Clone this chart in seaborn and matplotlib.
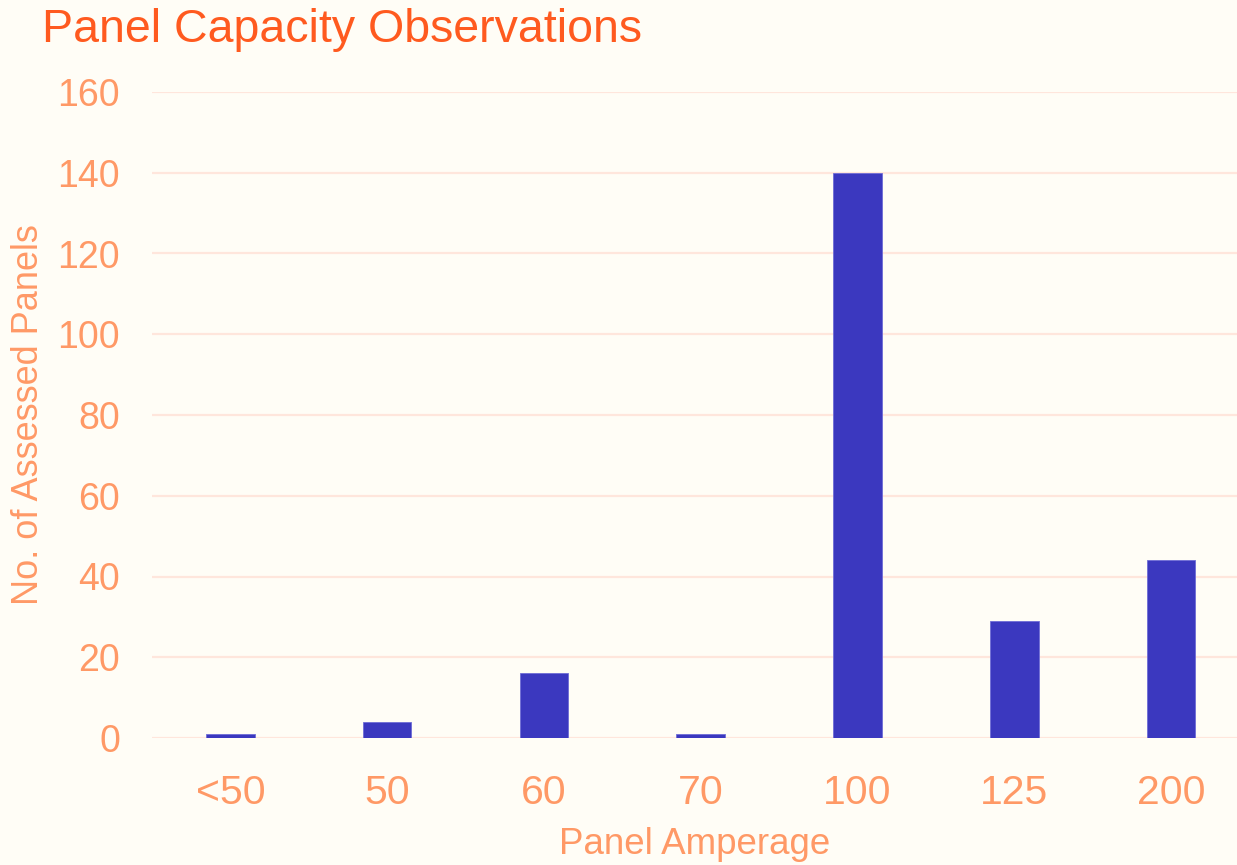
import matplotlib
matplotlib.use("Agg")
import matplotlib.pyplot as plt
import seaborn as sns
import pandas as pd

categories = ["<50", "50", "60", "70", "100", "125", "200"]
counts = [1, 4, 16, 1, 140, 29, 44]
y_ticks = [0, 20, 40, 60, 80, 100, 120, 140, 160]

BG = "#FFFDF6"
TICK = "#FF9966"
TITLE = "#FF5A1F"
GRID = "#FFE6DC"
BAR = "#3B38BF"

sns.set_theme(style="white")
plt.rcParams["font.family"] = ["Liberation Sans", "DejaVu Sans"]

df = pd.DataFrame({"amp": categories, "n": counts})

fig = plt.figure(figsize=(12.37, 8.65), dpi=100, facecolor=BG)
ax = fig.add_axes([152/1237, 1-738/865, 1-152/1237, (738-92)/865])
ax.set_facecolor(BG)

sns.barplot(data=df, x="amp", y="n", order=categories, color=BAR, width=0.31,
            saturation=1, edgecolor="#6E6CD6", linewidth=0.6, ax=ax, zorder=3)

ax.set_ylim(0, 160)
ax.set_xlim(-0.5, 6.42)
ax.set_yticks(y_ticks)
ax.yaxis.grid(True, color=GRID, linewidth=1.6, zorder=0)
ax.xaxis.grid(False)
ax.set_axisbelow(True)
for s in ax.spines.values():
    s.set_visible(False)
ax.tick_params(axis="y", colors=TICK, labelsize=27, length=0, pad=23)
ax.tick_params(axis="x", colors=TICK, labelsize=29.5, length=0, pad=26)

ax.set_xlabel("Panel Amperage", color=TICK, fontsize=26.5, labelpad=11)
ax.set_ylabel("No. of Assessed Panels", color=TICK, fontsize=26)
ax.yaxis.set_label_coords(-0.098, 0.5)

fig.text(42/1237, 1-30/865, "Panel Capacity Observations", color=TITLE,
         fontsize=33.5, ha="left", va="center")

fig.savefig("out.png", dpi=100, facecolor=BG)
